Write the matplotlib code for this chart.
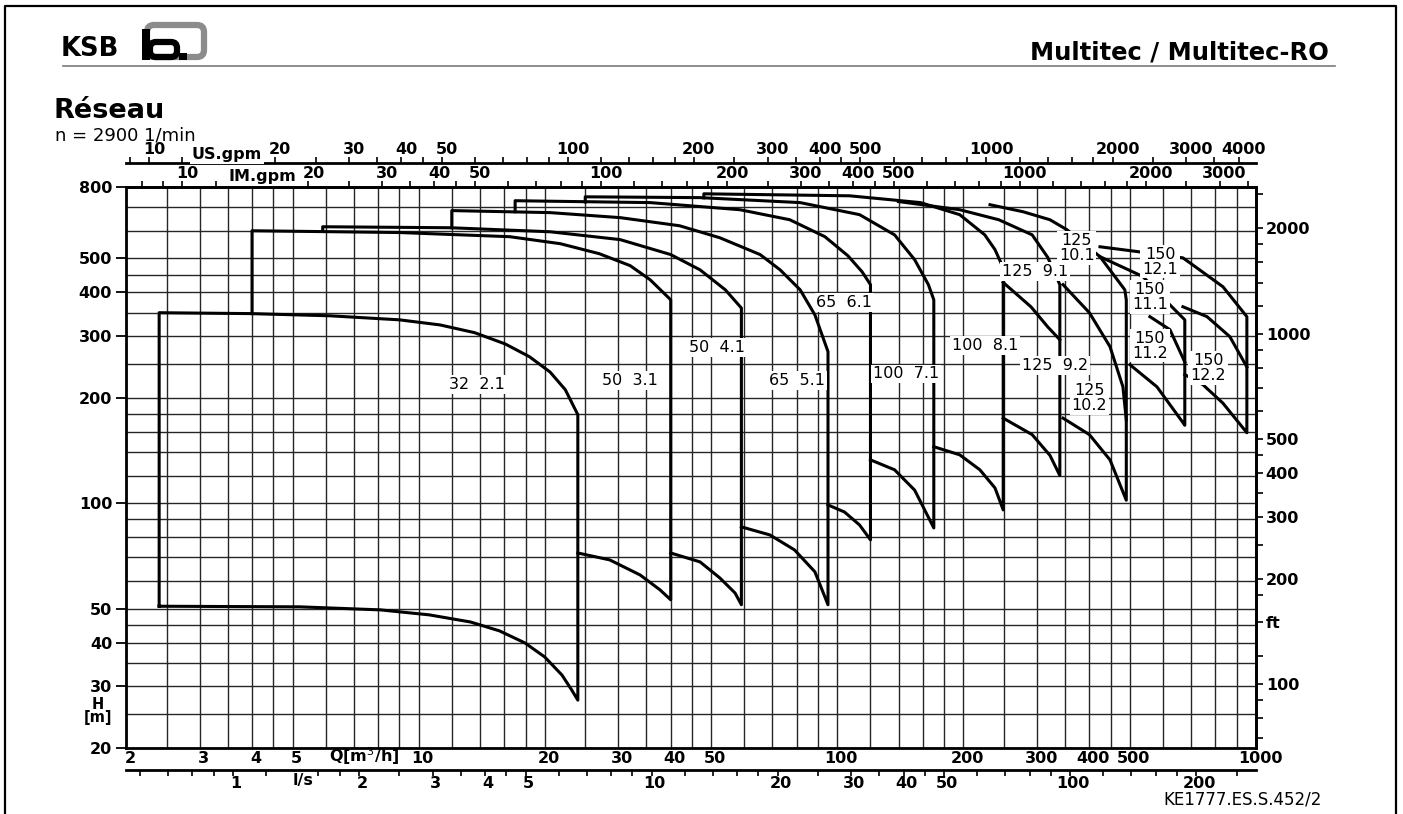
import matplotlib.pyplot as plt
import matplotlib.transforms as mtransforms
from matplotlib.patches import FancyBboxPatch, Rectangle
from matplotlib.ticker import FixedLocator, NullLocator, NullFormatter

plt.rcParams['font.family'] = ['DejaVu Sans']

W, HP = 1403, 814

US_GPM = 4.4029   # US gpm per m3/h
IM_GPM = 3.6661   # IM gpm per m3/h
FT = 3.2808       # ft per m

# grid of the chart
q_grid = [2, 2.5, 3, 3.5, 4, 4.5, 5, 6, 7, 8, 9, 10, 12, 14, 16, 18, 20, 25, 30, 35,
          40, 45, 50, 60, 70, 80, 90, 100, 120, 140, 160, 180, 200, 250, 300, 350,
          400, 450, 500, 600, 700, 800, 900, 1000]
h_grid = [20, 25, 30, 35, 40, 45, 50, 60, 70, 80, 90, 100, 120, 140, 160, 180, 200,
          250, 300, 350, 400, 450, 500, 600, 700, 800]

q_ticks = [2, 3, 4, 5, 10, 20, 30, 40, 50, 100, 200, 300, 400, 500, 1000]
h_ticks = [20, 30, 40, 50, 100, 200, 300, 400, 500, 800]
ft_ticks = [100, 150, 200, 300, 400, 500, 1000, 2000]
ft_labels = ['100', 'ft', '200', '300', '400', '500', '1000', '2000']
ft_minor = [70, 80, 90, 120, 180, 250, 350, 450, 600, 700, 800, 900, 1200, 1400,
            1600, 1800, 2500]
ls_ticks = [1, 2, 3, 4, 5, 10, 20, 30, 40, 50, 100, 200]
ls_minor = [0.6, 0.7, 0.8, 0.9, 1.2, 1.4, 1.6, 1.8, 2.5, 3.5, 4.5, 6, 7, 8, 9, 12, 14,
            16, 18, 25, 35, 45, 60, 70, 80, 90, 120, 140, 160, 180, 250]
us_ticks = [10, 20, 30, 40, 50, 100, 200, 300, 400, 500, 1000, 2000, 3000, 4000]
us_minor = [9, 12, 14, 16, 18, 25, 35, 45, 60, 70, 80, 90, 120, 140, 160, 180, 250,
            350, 450, 600, 700, 800, 900, 1200, 1400, 1600, 1800, 2500, 3500]
im_ticks = [10, 20, 30, 40, 50, 100, 200, 300, 400, 500, 1000, 2000, 3000]
im_minor = [8, 9, 12, 14, 16, 18, 25, 35, 45, 60, 70, 80, 90, 120, 140, 160, 180, 250,
            350, 450, 600, 700, 800, 900, 1200, 1400, 1600, 1800, 2500, 3500]

# pump size fields: Q [m3/h], H [m] along the visible outline
q_32_21 = [2.4, 2.4, 3.95, 6.14, 9, 11.25, 13.6, 16.1, 18.4, 20.6, 22.4, 24,
           24, 23.2, 22.0, 20, 17.95, 15.6, 13.3, 10.6, 8.1, 5.2, 2.4]
h_32_21 = [50.8, 350, 348, 343, 334, 323, 307, 285, 262, 237, 211, 179,
           27.4, 29.3, 32.3, 36.4, 39.9, 43.2, 45.8, 48, 49.6, 50.6, 50.8]

q_50_31 = [4, 4, 9, 16.5, 21.8, 27, 32, 35.7, 40, 40, 37.7, 33.8, 28.6, 24]
h_50_31 = [348, 600, 593, 577, 551, 516, 477, 435, 381, 53, 56.6, 62.4, 68.9, 72.1]

q_50_41 = [5.9, 5.9, 11.9, 20.6, 30.3, 40, 47, 54, 59, 59, 57, 52.4, 47, 40]
h_50_41 = [598, 616, 612, 596, 566, 513, 464, 407, 361, 51.3, 55.4, 61.2, 68, 72.1]

q_65_51 = [12, 12, 20.6, 30.3, 42, 52.4, 65.4, 73, 81.5, 88.4, 95, 95, 88.4, 79, 69, 59]
h_65_51 = [612, 685, 676, 654, 620, 573, 513, 464, 407, 345, 271, 51.3, 63.7, 73.6, 81.2, 85.6]

q_65_61 = [17, 17, 35.7, 58.5, 77, 93.4, 106, 114.6, 120, 120, 113, 104, 95]
h_65_61 = [680, 731, 722, 689, 645, 577, 509, 458, 421, 78.6, 86.7, 94.4, 98.9]

q_100_71 = [25, 25, 47, 81.5, 113, 137, 153, 165, 170, 170, 153, 137, 120]
h_100_71 = [725, 750, 746, 722, 667, 584, 496, 421, 381, 85, 109, 124.6, 133]

q_100_81 = [48, 48, 107, 158, 196, 225, 238, 249, 249, 238, 219, 196, 170]
h_100_81 = [745, 765, 755, 722, 667, 584, 530, 470, 95.7, 110.6, 124.6, 137.5, 145]

q_125_9 = [140, 196, 243, 292, 318, 340, 340, 322, 292, 249]
h_125_9 = [727, 689, 645, 584, 504, 421, 120, 137, 157, 175]
q_125_92 = [249, 290, 318, 340]
h_125_92 = [427, 364, 319, 293]

q_125_10 = [231.6, 277.6, 322, 353.6, 424, 486, 490, 490, 448, 400, 346]
h_125_10 = [712, 680, 645, 604, 506, 407, 381, 102, 133, 157, 175]
q_125_102 = [346, 400, 448, 481, 490]
h_125_102 = [421, 350, 280, 215, 173]

q_150_11 = [424, 537, 606, 676, 676, 670, 580, 500]
h_150_11 = [506, 444, 381, 334, 167, 169.6, 215, 248.6]
q_150_112 = [558, 623, 676]
h_150_112 = [341, 313, 253]

q_150_12 = [424, 522, 669, 695, 834, 951, 951, 834, 747, 676]
h_150_12 = [540, 523, 502, 486, 415, 341, 159, 193, 218, 233]
q_150_122 = [669, 764, 866, 951]
h_150_122 = [364, 341, 299, 245]

size_names = ['32  2.1', '50  3.1', '50  4.1', '65  5.1', '65  6.1', '100  7.1',
              '100  8.1', '125  9.1', '125  9.2', '125\n10.1', '125\n10.2',
              '150\n12.1', '150\n11.1', '150\n11.2', '150\n12.2']
name_q = [13.8, 32, 51.6, 80, 104, 146, 225, 297, 331, 373, 400, 590, 558, 558, 768]
name_h = [218, 224, 278, 224, 374, 234, 282, 458, 247, 537, 200, 490, 389, 282, 244]

fig = plt.figure(figsize=(W / 100, HP / 100), dpi=100)
ax = fig.add_axes([126 / W, 1 - 748 / HP, 1130 / W, 561 / HP])
ax.set_xscale('log')
ax.set_yscale('log')
ax.set_xlim(2, 1000)
ax.set_ylim(20, 800)

for q in q_grid:
    ax.axvline(q, color='#262626', lw=1.0, zorder=1)
for h in h_grid:
    ax.axhline(h, color='#262626', lw=1.0, zorder=1)

fields = [(q_32_21, h_32_21), (q_50_31, h_50_31), (q_50_41, h_50_41),
          (q_65_51, h_65_51), (q_65_61, h_65_61), (q_100_71, h_100_71),
          (q_100_81, h_100_81), (q_125_9, h_125_9), (q_125_92, h_125_92),
          (q_125_10, h_125_10), (q_125_102, h_125_102), (q_150_11, h_150_11),
          (q_150_112, h_150_112), (q_150_12, h_150_12), (q_150_122, h_150_122)]
for q, h in fields:
    ax.plot(q, h, color='black', lw=2.2, zorder=3, solid_joinstyle='round')

for name, q, h in zip(size_names, name_q, name_h):
    ax.text(q, h, name, ha='center', va='center', fontsize=11.5, zorder=4,
            linespacing=1.0,
            bbox=dict(boxstyle='square,pad=0.12', fc='white', ec='none'))

for s in ax.spines.values():
    s.set_linewidth(2.0)

bold = dict(fontweight='bold')
LBL = 11.5


def nudge(axis, dx_px):
    # printed scale labels sit a few pixels right of their tick
    off = mtransforms.ScaledTranslation(dx_px / 100, 0, fig.dpi_scale_trans)
    for t in axis.get_major_ticks():
        t.label1.set_transform(t.label1.get_transform() + off)
        t.label2.set_transform(t.label2.get_transform() + off)


ax.set_xticks(q_ticks, [str(v) for v in q_ticks], **bold)
ax.xaxis.set_minor_locator(NullLocator())
ax.tick_params(axis='x', which='both', length=0, pad=2, labelsize=LBL)
nudge(ax.xaxis, 4)
ax.set_yticks(h_ticks, [str(v) for v in h_ticks], **bold)
ax.yaxis.set_minor_locator(NullLocator())
ax.tick_params(axis='y', which='both', length=7, width=1.3, pad=3, labelsize=LBL)

# imperial gallons on the top frame
im = ax.secondary_xaxis('top', functions=(lambda q: q * IM_GPM, lambda g: g / IM_GPM))
im.set_xticks(im_ticks, [str(v) for v in im_ticks], **bold)
im.xaxis.set_minor_locator(FixedLocator(im_minor))
im.xaxis.set_minor_formatter(NullFormatter())
im.tick_params(which='both', direction='out', length=4, width=1.2, pad=0, labelsize=LBL)
im.spines['top'].set_linewidth(2.0)
nudge(im.xaxis, 5)

# US gallons on a separate line above
us = ax.secondary_xaxis(1 + 24 / 561, functions=(lambda q: q * US_GPM, lambda g: g / US_GPM))
us.set_xticks(us_ticks, [str(v) for v in us_ticks], **bold)
us.xaxis.set_minor_locator(FixedLocator(us_minor))
us.xaxis.set_minor_formatter(NullFormatter())
us.tick_params(which='both', direction='out', length=4, width=1.2, pad=0, labelsize=LBL)
us.spines['top'].set_linewidth(2.0)
nudge(us.xaxis, 5)

# litres per second below
ls = ax.secondary_xaxis(-22 / 561, functions=(lambda q: q / 3.6, lambda v: v * 3.6))
ls.set_xticks(ls_ticks, [str(v) for v in ls_ticks], **bold)
ls.xaxis.set_minor_locator(FixedLocator(ls_minor))
ls.xaxis.set_minor_formatter(NullFormatter())
ls.tick_params(which='both', direction='out', length=4, width=1.2, pad=0, labelsize=LBL)
ls.spines['bottom'].set_linewidth(2.0)
nudge(ls.xaxis, 3)

# head in feet on the right
ft = ax.secondary_yaxis('right', functions=(lambda h: h * FT, lambda f: f / FT))
ft.set_yticks(ft_ticks, ft_labels, **bold)
ft.yaxis.set_minor_locator(FixedLocator(ft_minor))
ft.yaxis.set_minor_formatter(NullFormatter())
ft.tick_params(which='both', direction='out', length=5, width=1.2, pad=2, labelsize=LBL)
ft.spines['right'].set_linewidth(2.0)

# page furniture, drawn in pixel coordinates
ov = fig.add_axes([0, 0, 1, 1])
ov.set_xlim(0, W)
ov.set_ylim(HP, 0)
ov.axis('off')

ov.plot([5, 5, 1396, 1396], [814, 6, 6, 814], color='black', lw=1.6)
ov.plot([63, 1335], [66, 66], color='#7a7a7a', lw=1.2)

ov.text(61, 49, 'KSB', fontsize=18.5, fontweight='bold', va='center', ha='left')
ov.add_patch(FancyBboxPatch((147, 25), 57, 32, boxstyle='round,pad=0,rounding_size=7',
                            fc='none', ec='#8c8c8c', lw=4.5))
ov.add_patch(Rectangle((142, 29), 8, 31, fc='black', ec='none'))
ov.add_patch(FancyBboxPatch((150, 42), 27, 15, boxstyle='round,pad=0,rounding_size=6',
                            fc='none', ec='black', lw=4.5))
ov.add_patch(Rectangle((179, 53), 8, 7, fc='black', ec='none'))

ov.text(1329, 53, 'Multitec / Multitec-RO', fontsize=17.5, fontweight='bold',
        ha='right', va='center')
ov.text(54, 111, 'Réseau', fontsize=19.5, fontweight='bold', ha='left', va='center')
ov.text(55, 136, 'n = 2900 1/min', fontsize=13, ha='left', va='center')

ov.text(227, 155, 'US.gpm', fontsize=LBL, fontweight='bold', ha='center', va='center',
        bbox=dict(boxstyle='square,pad=0.1', fc='white', ec='none'))
ov.text(262, 177, 'IM.gpm', fontsize=LBL, fontweight='bold', ha='center', va='center',
        bbox=dict(boxstyle='square,pad=0.1', fc='white', ec='none'))
ov.text(364, 756, 'Q[m$^3$/h]', fontsize=LBL, fontweight='bold', ha='center', va='center')
ov.text(303, 781, 'l/s', fontsize=LBL, fontweight='bold', ha='center', va='center',
        bbox=dict(boxstyle='square,pad=0.1', fc='white', ec='none'))
ov.text(98, 711, 'H\n[m]', fontsize=10.5, fontweight='bold', ha='center', va='center',
        linespacing=0.8)
ov.text(1322, 800, 'KE1777.ES.S.452/2', fontsize=12, ha='right', va='center')

fig.savefig('out.png', dpi=100, facecolor='white')
